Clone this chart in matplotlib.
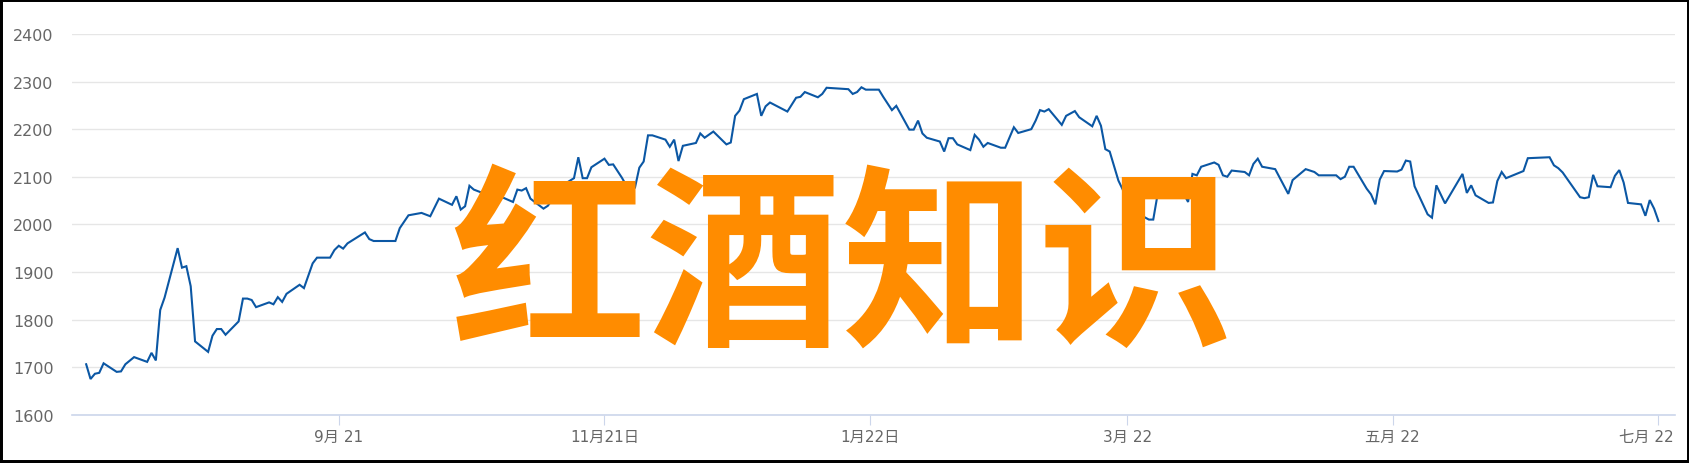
import matplotlib
matplotlib.use("Agg")
import matplotlib.pyplot as plt
import matplotlib.transforms as mtransforms
from matplotlib.patches import Rectangle
import pandas as pd


# -----------------------------
# Data
# -----------------------------
dates = [
    # 2021-07
    "2021-07-05", "2021-07-06", "2021-07-07", "2021-07-08", "2021-07-09", "2021-07-12",
    "2021-07-13", "2021-07-14", "2021-07-16", "2021-07-19", "2021-07-20", "2021-07-21",
    "2021-07-22", "2021-07-23", "2021-07-26", "2021-07-27", "2021-07-28", "2021-07-29",
    "2021-07-30",
    # 2021-08
    "2021-08-02", "2021-08-03", "2021-08-04", "2021-08-05", "2021-08-06", "2021-08-09",
    "2021-08-10", "2021-08-11", "2021-08-12", "2021-08-13", "2021-08-16", "2021-08-17",
    "2021-08-18", "2021-08-19", "2021-08-20", "2021-08-23", "2021-08-24", "2021-08-26",
    "2021-08-27", "2021-08-30", "2021-08-31",
    # 2021-09
    "2021-09-01", "2021-09-02", "2021-09-03", "2021-09-07", "2021-09-08", "2021-09-09",
    "2021-09-14", "2021-09-15", "2021-09-17", "2021-09-20", "2021-09-22", "2021-09-24",
    "2021-09-27", "2021-09-28", "2021-09-29", "2021-09-30",
    # 2021-10
    "2021-10-01", "2021-10-02", "2021-10-04", "2021-10-05", "2021-10-07", "2021-10-08",
    "2021-10-11", "2021-10-12", "2021-10-13", "2021-10-14", "2021-10-15", "2021-10-18",
    "2021-10-19", "2021-10-20", "2021-10-22", "2021-10-25", "2021-10-26", "2021-10-27",
    "2021-10-28", "2021-10-29",
    # 2021-11
    "2021-11-01", "2021-11-02", "2021-11-03", "2021-11-05", "2021-11-06", "2021-11-07",
    "2021-11-08", "2021-11-09", "2021-11-10", "2021-11-11", "2021-11-12", "2021-11-15",
    "2021-11-16", "2021-11-17", "2021-11-18", "2021-11-19", "2021-11-22", "2021-11-23",
    "2021-11-24", "2021-11-26", "2021-11-29", "2021-11-30",
    # 2021-12
    "2021-12-01", "2021-12-02", "2021-12-03", "2021-12-06", "2021-12-07", "2021-12-08",
    "2021-12-09", "2021-12-13", "2021-12-15", "2021-12-16", "2021-12-17", "2021-12-20",
    "2021-12-21", "2021-12-22", "2021-12-27", "2021-12-28", "2021-12-29", "2021-12-30",
    "2021-12-31",
    # 2022-01
    "2022-01-03", "2022-01-04", "2022-01-06", "2022-01-07", "2022-01-10", "2022-01-11",
    "2022-01-12", "2022-01-13", "2022-01-14", "2022-01-17", "2022-01-18", "2022-01-19",
    "2022-01-20", "2022-01-21", "2022-01-24", "2022-01-25", "2022-01-26", "2022-01-27",
    "2022-01-28", "2022-01-31",
    # 2022-02
    "2022-02-01", "2022-02-03", "2022-02-04", "2022-02-07", "2022-02-08", "2022-02-09",
    "2022-02-10", "2022-02-11", "2022-02-14", "2022-02-15", "2022-02-17", "2022-02-18",
    "2022-02-21", "2022-02-22", "2022-02-23", "2022-02-24", "2022-02-25", "2022-02-27",
    "2022-02-28",
    # 2022-03
    "2022-03-01", "2022-03-04", "2022-03-06", "2022-03-07", "2022-03-08", "2022-03-10",
    "2022-03-12", "2022-03-14", "2022-03-15", "2022-03-16", "2022-03-17", "2022-03-18",
    "2022-03-21", "2022-03-22", "2022-03-23", "2022-03-24", "2022-03-25", "2022-03-28",
    "2022-03-29", "2022-03-30", "2022-03-31",
    # 2022-04
    "2022-04-01", "2022-04-04", "2022-04-07", "2022-04-08", "2022-04-11", "2022-04-13",
    "2022-04-14", "2022-04-18", "2022-04-19", "2022-04-20", "2022-04-21", "2022-04-22",
    "2022-04-25", "2022-04-26", "2022-04-27", "2022-04-28", "2022-04-29",
    # 2022-05
    "2022-05-02", "2022-05-03", "2022-05-04", "2022-05-05", "2022-05-06", "2022-05-09",
    "2022-05-10", "2022-05-11", "2022-05-13", "2022-05-17", "2022-05-18", "2022-05-19",
    "2022-05-20", "2022-05-23", "2022-05-24", "2022-05-25", "2022-05-26", "2022-05-27",
    "2022-05-31",
    # 2022-06 / 07
    "2022-06-01", "2022-06-06", "2022-06-07", "2022-06-08", "2022-06-09", "2022-06-13",
    "2022-06-14", "2022-06-15", "2022-06-16", "2022-06-17", "2022-06-20", "2022-06-21",
    "2022-06-22", "2022-06-23", "2022-06-24", "2022-06-27", "2022-06-28", "2022-06-29",
    "2022-06-30", "2022-07-01",
]

prices = [
    # 2021-07
    1706, 1675, 1686, 1688, 1708, 1690,
    1691, 1706, 1721, 1711, 1730, 1714,
    1820, 1846, 1950, 1909, 1912, 1870,
    1754,
    # 2021-08
    1732, 1766, 1780, 1780, 1768, 1796,
    1844, 1844, 1841, 1826, 1836, 1832,
    1847, 1837, 1854, 1873, 1866, 1918,
    1930, 1930, 1946,
    # 2021-09
    1955, 1949, 1960, 1983, 1969, 1965,
    1965, 1992, 2019, 2024, 2017, 2054,
    2041, 2059, 2031, 2038,
    # 2021-10
    2081, 2073, 2066, 2074, 2064, 2059,
    2047, 2073, 2071, 2076, 2054, 2033,
    2039, 2052, 2080, 2097, 2141, 2097,
    2097, 2120,
    # 2021-11
    2138, 2125, 2126, 2098, 2082, 2070,
    2077, 2119, 2132, 2187, 2187, 2178,
    2163, 2178, 2133, 2165, 2171, 2191,
    2182, 2195, 2168, 2172,
    # 2021-12
    2228, 2239, 2263, 2274, 2228, 2248,
    2256, 2237, 2266, 2268, 2278, 2267,
    2274, 2287, 2284, 2274, 2278, 2288,
    2283,
    # 2022-01
    2283, 2268, 2240, 2249, 2199, 2199,
    2218, 2191, 2182, 2174, 2153, 2181,
    2181, 2168, 2156, 2188, 2178, 2163,
    2171, 2161,
    # 2022-02
    2161, 2204, 2192, 2200, 2218, 2240,
    2237, 2242, 2209, 2228, 2238, 2225,
    2206, 2228, 2207, 2158, 2153, 2092,
    2073,
    # 2022-03
    2045, 2020, 2010, 2010, 2063, 2085,
    2090, 2064, 2047, 2106, 2103, 2121,
    2130, 2125, 2103, 2100, 2113, 2110,
    2103, 2127, 2138,
    # 2022-04
    2121, 2116, 2064, 2093, 2116, 2110,
    2103, 2103, 2095, 2100, 2121, 2121,
    2075, 2063, 2042, 2094, 2112,
    # 2022-05
    2111, 2115, 2134, 2132, 2080, 2021,
    2014, 2082, 2044, 2106, 2066, 2082,
    2061, 2045, 2046, 2091, 2110, 2097,
    2112,
    # 2022-06 / 07
    2139, 2141, 2124, 2118, 2109, 2057,
    2055, 2057, 2104, 2080, 2078, 2102,
    2114, 2088, 2045, 2042, 2018, 2051,
    2033, 2007,
]

tick_dates = ["2021-09-01", "2021-11-01", "2022-01-01", "2022-03-01", "2022-05-01", "2022-07-01"]
tick_labels = ["9月 21", "11月21日", "1月22日", "3月 22", "五月 22", "七月 22"]
y_ticks = [1600, 1700, 1800, 1900, 2000, 2100, 2200, 2300, 2400]
overlay_text = "红酒知识"


# -----------------------------
# Figure
# -----------------------------
plt.rcParams["font.family"] = ["DejaVu Sans", "Noto Sans CJK SC"]

fig = plt.figure(figsize=(16.9, 4.64), dpi=100)
fig.patch.set_facecolor("white")
ax = fig.add_axes([0.0424, 0.1041, 0.9485, 0.8205])

x = pd.to_datetime(dates)
ax.plot(x, prices, color="#0b57a4", lw=1.5, solid_joinstyle="miter", zorder=3)

# axes limits: a few days of padding on both sides
ax.set_xlim(pd.Timestamp("2021-07-01 16:00"), pd.Timestamp("2022-07-04 17:00"))
ax.set_ylim(1600, 2400)

ax.set_yticks(y_ticks)
ax.set_yticklabels([str(v) for v in y_ticks])
ax.set_xticks(pd.to_datetime(tick_dates))
ax.set_xticklabels(tick_labels)

ax.grid(axis="y", color="#e6e6e6", lw=1.0)
ax.set_axisbelow(True)
for s in ("top", "right", "left"):
    ax.spines[s].set_visible(False)
ax.spines["bottom"].set_color("#ccd6eb")
ax.spines["bottom"].set_linewidth(1.2)

ax.tick_params(axis="y", length=0, pad=13, labelsize=11.5, labelcolor="#666666")
ax.tick_params(axis="x", length=7, width=0.8, color="#ccd6eb", pad=3,
               labelsize=11, labelcolor="#666666")

# last label is pushed left so it stays inside the plot
last = ax.get_xticklabels()[-1]
last.set_transform(last.get_transform() + mtransforms.ScaledTranslation(-12 / 100, 0, fig.dpi_scale_trans))

# big orange watermark text
fig.text(0.498, 0.412, overlay_text, ha="center", va="center", fontsize=141,
         fontweight="heavy", color="#ff8c00", family=["Noto Sans CJK SC"], zorder=5)

# black frame round the picture
fig.patches.append(Rectangle((0, 0), 1, 1, transform=fig.transFigure, fill=False,
                             lw=4.3, ec="black", zorder=10))

fig.savefig("out.png", dpi=100)
